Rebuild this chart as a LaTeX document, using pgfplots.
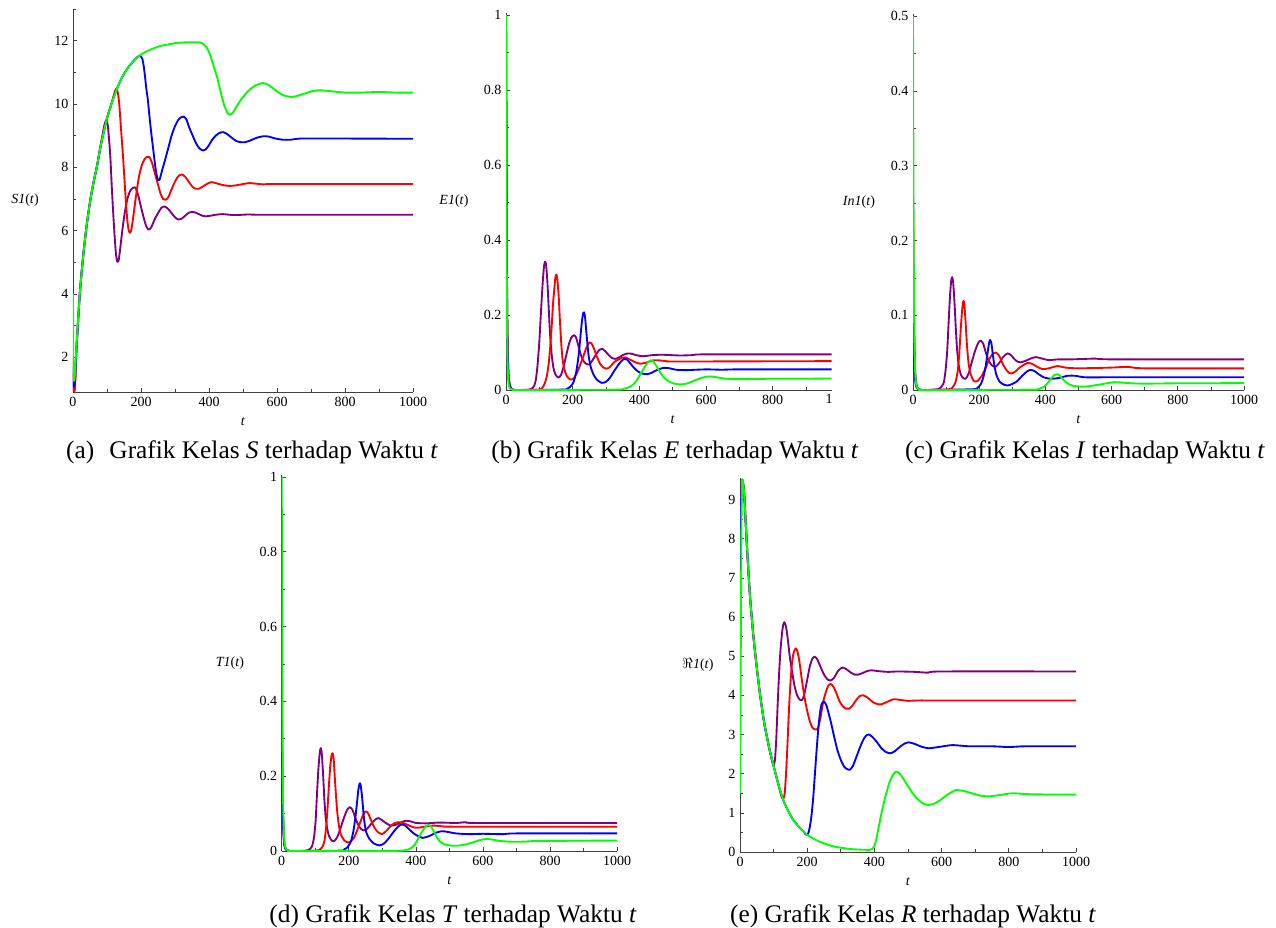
\documentclass[border=0pt]{standalone}
\usepackage{fontspec}
\setmainfont{Liberation Serif}
\usepackage{pgfplots}
\pgfplotsset{compat=1.18}
\definecolor{mPurple}{RGB}{128,0,128}
\definecolor{mRed}{RGB}{255,0,0}
\definecolor{mBlue}{RGB}{0,0,255}
\definecolor{mGreen}{RGB}{0,255,0}
\pgfplotsset{
  maple/.style={
    scale only axis,
    anchor=south west,
    axis lines=left,
    axis line style={-, black!75, line width=0.6pt},
    every tick/.style={black!75, line width=0.5pt},
    major tick length=3pt, minor tick length=2.5pt,
    tick align=inside,
    xmin=0, xmax=1000,
    xtick={0,200,400,600,800,1000},
    minor xtick={100,300,500,700,900},
    tick label style={font=\fontsize{10.5}{12}\selectfont},
    /pgf/number format/assume math mode=true,
    /pgf/number format/1000 sep={},
    xlabel={\textit{t}},
    every axis x label/.style={at={(axis description cs:0.5,0)}, anchor=center, yshift=-22pt, inner sep=0pt, font=\fontsize{10.5}{12}\selectfont},
    every axis y label/.style={at={(axis description cs:0,0.5)}, anchor=center, inner sep=0pt, font=\fontsize{10.5}{12}\selectfont},
    every axis plot/.append style={line width=1.4pt, smooth, tension=0.4, line join=round},
  }
}
\begin{document}
\begin{tikzpicture}
\path[use as bounding box] (0pt,0pt) rectangle (957pt,-695.25pt);

% ---------------- (a) S1 ----------------
\begin{axis}[maple, at={(54.75pt,-294pt)}, width=255pt, height=287.25pt,
  ymin=0.9, ymax=13, ytick={2,4,6,8,10,12}, minor ytick={1,3,5,7,9,11,13},
  ylabel={\textit{S1}(\textit{t})}, ylabel style={xshift=-36pt}]
\addplot[mPurple] coordinates {(0,1.5)(2,1.0)(4,0.95)(7,1.4)(10,2.3)(20,4.0)(30,5.2)(40,6.15)(50,6.9)(60,7.5)(70,8.0)(80,8.6)(88,9.1)(94,9.4)(98,9.48)(102,9.35)(106,8.9)(110,8.3)(114,7.4)(118,6.6)(122,5.9)(126,5.3)(130,5.02)(134,5.05)(138,5.35)(145,6.0)(152,6.55)(160,7.0)(168,7.25)(176,7.35)(184,7.35)(192,7.1)(200,6.75)(208,6.4)(215,6.15)(222,6.03)(230,6.1)(240,6.35)(250,6.55)(260,6.72)(270,6.76)(280,6.68)(290,6.55)(300,6.42)(310,6.35)(320,6.38)(330,6.47)(340,6.56)(350,6.59)(360,6.57)(370,6.52)(380,6.47)(390,6.45)(400,6.46)(420,6.5)(440,6.52)(460,6.5)(480,6.49)(520,6.51)(560,6.5)(1000,6.5)};
\addplot[mRed] coordinates {(0,2.0)(2,1.0)(4,0.92)(7,1.3)(10,2.2)(20,4.0)(30,5.2)(40,6.15)(50,6.9)(60,7.5)(70,8.0)(80,8.6)(90,9.1)(100,9.55)(110,9.9)(118,10.2)(124,10.42)(128,10.48)(132,10.35)(136,10.0)(140,9.4)(144,8.8)(148,8.2)(152,7.5)(156,6.85)(160,6.3)(164,6.0)(168,5.93)(172,6.05)(178,6.5)(186,7.15)(194,7.7)(202,8.05)(210,8.25)(218,8.33)(225,8.32)(232,8.15)(240,7.85)(250,7.45)(258,7.15)(265,7.0)(272,6.97)(280,7.05)(290,7.3)(300,7.55)(310,7.72)(320,7.77)(330,7.7)(340,7.55)(350,7.4)(360,7.32)(370,7.32)(380,7.38)(395,7.48)(407,7.53)(420,7.5)(440,7.44)(460,7.41)(480,7.43)(500,7.47)(520,7.5)(560,7.46)(600,7.47)(1000,7.47)};
\addplot[mBlue] coordinates {(0,1.7)(2,1.1)(5,1.15)(10,2.2)(20,4.0)(30,5.2)(40,6.15)(50,6.9)(60,7.5)(70,8.0)(80,8.6)(90,9.1)(100,9.55)(110,9.9)(120,10.22)(130,10.5)(140,10.75)(150,10.95)(160,11.12)(170,11.26)(180,11.38)(188,11.47)(195,11.52)(200,11.5)(204,11.42)(208,11.2)(212,10.85)(216,10.45)(220,10.15)(225,9.6)(230,9.1)(235,8.65)(240,8.2)(245,7.8)(250,7.6)(255,7.62)(262,7.9)(270,8.2)(280,8.6)(290,9.0)(300,9.3)(310,9.5)(318,9.58)(326,9.6)(334,9.5)(342,9.25)(350,9.05)(358,8.85)(366,8.68)(374,8.58)(382,8.53)(390,8.56)(400,8.7)(410,8.88)(420,9.0)(430,9.08)(441,9.11)(452,9.06)(465,8.95)(480,8.83)(495,8.79)(505,8.79)(520,8.84)(540,8.93)(560,8.98)(575,8.97)(595,8.91)(617,8.87)(640,8.87)(660,8.9)(700,8.91)(1000,8.9)};
\addplot[mGreen] coordinates {(0,4.0)(1,1.8)(3,1.25)(6,1.5)(10,2.3)(20,4.0)(30,5.2)(40,6.15)(50,6.9)(60,7.5)(70,8.0)(80,8.6)(90,9.1)(100,9.55)(110,9.9)(120,10.22)(130,10.5)(140,10.75)(150,10.95)(160,11.12)(170,11.26)(180,11.38)(190,11.47)(200,11.56)(220,11.68)(240,11.77)(260,11.84)(280,11.88)(300,11.92)(320,11.94)(340,11.95)(360,11.95)(375,11.94)(385,11.88)(395,11.75)(405,11.5)(415,11.15)(425,10.8)(435,10.35)(445,9.95)(455,9.7)(462,9.66)(470,9.72)(480,9.9)(495,10.15)(510,10.35)(525,10.5)(540,10.6)(559,10.66)(575,10.6)(590,10.48)(605,10.36)(620,10.27)(642,10.22)(665,10.27)(690,10.36)(710,10.42)(730,10.43)(760,10.4)(800,10.36)(850,10.36)(900,10.38)(950,10.36)(1000,10.36)};
\end{axis}

% ---------------- (b) E1 ----------------
\begin{axis}[maple, at={(379.5pt,-292.5pt)}, width=244.3pt, height=282.75pt,
  xmax=977, xtick={0,200,400,600,800}, extra x ticks={969}, extra x tick labels={1},
  extra x tick style={major tick length=0pt},
  ymin=0, ymax=1.005, ytick={0,0.2,0.4,0.6,0.8,1}, minor ytick={0.1,0.3,0.5,0.7,0.9},
  xlabel style={at={(axis description cs:0.5115,0)}},
  ylabel={\textit{E1}(\textit{t})}, ylabel style={xshift=-39pt}]
\addplot[mPurple] coordinates {(0,1.0)(1,0.75)(2,0.5)(3,0.3)(4,0.18)(6,0.08)(8,0.035)(12,0.01)(20,0.001)(40,0)(70,0.001)(78,0.004)(85,0.012)(90,0.03)(95,0.07)(100,0.13)(105,0.21)(110,0.285)(114,0.33)(117,0.342)(120,0.335)(124,0.29)(128,0.22)(132,0.15)(137,0.095)(142,0.06)(148,0.042)(157,0.033)(165,0.04)(172,0.06)(180,0.09)(188,0.12)(196,0.14)(204,0.146)(210,0.14)(217,0.118)(224,0.095)(232,0.078)(240,0.07)(250,0.068)(260,0.08)(270,0.095)(280,0.107)(288,0.11)(297,0.104)(307,0.094)(317,0.086)(327,0.083)(337,0.086)(350,0.093)(362,0.097)(375,0.097)(390,0.093)(410,0.09)(440,0.093)(470,0.094)(520,0.092)(560,0.093)(600,0.095)(1000,0.095)};
\addplot[mRed] coordinates {(0,1.0)(1,0.75)(2,0.5)(3,0.3)(4,0.18)(6,0.08)(8,0.035)(12,0.01)(20,0.001)(40,0)(100,0.001)(108,0.005)(115,0.015)(122,0.035)(128,0.07)(133,0.12)(137,0.17)(141,0.23)(145,0.27)(148,0.3)(151,0.308)(154,0.295)(158,0.25)(162,0.18)(166,0.12)(170,0.08)(175,0.055)(182,0.038)(192,0.028)(202,0.03)(212,0.044)(222,0.066)(232,0.09)(242,0.115)(250,0.127)(256,0.125)(264,0.11)(272,0.09)(282,0.07)(292,0.06)(300,0.057)(310,0.06)(320,0.07)(330,0.078)(345,0.085)(357,0.087)(370,0.082)(385,0.075)(402,0.07)(420,0.073)(442,0.079)(460,0.079)(480,0.077)(520,0.076)(1000,0.077)};
\addplot[mBlue] coordinates {(0,0.9)(1,0.7)(2,0.45)(3,0.27)(4,0.14)(6,0.06)(8,0.03)(12,0.01)(20,0.001)(40,0)(170,0.001)(182,0.003)(192,0.008)(202,0.02)(210,0.045)(216,0.08)(220,0.11)(224,0.15)(228,0.185)(231,0.203)(234,0.207)(237,0.195)(240,0.165)(244,0.125)(248,0.09)(254,0.062)(262,0.042)(272,0.028)(287,0.019)(300,0.022)(312,0.033)(324,0.05)(337,0.067)(347,0.078)(355,0.083)(363,0.081)(372,0.072)(382,0.061)(395,0.05)(408,0.044)(422,0.042)(437,0.046)(452,0.053)(472,0.059)(490,0.058)(510,0.054)(540,0.053)(600,0.055)(650,0.054)(700,0.055)(1000,0.055)};
\addplot[mGreen] coordinates {(0,1.0)(1,0.7)(2,0.4)(3,0.2)(4,0.1)(6,0.04)(8,0.015)(12,0.004)(20,0.001)(40,0)(330,0.001)(350,0.003)(362,0.005)(375,0.01)(385,0.018)(395,0.03)(405,0.045)(415,0.06)(425,0.073)(433,0.079)(440,0.078)(447,0.07)(455,0.058)(463,0.046)(472,0.035)(482,0.027)(495,0.02)(510,0.016)(527,0.015)(545,0.018)(565,0.025)(585,0.032)(605,0.036)(625,0.035)(650,0.031)(680,0.029)(720,0.029)(800,0.03)(900,0.03)(1000,0.031)};
\end{axis}

% ---------------- (c) In1 ----------------
\begin{axis}[maple, at={(684.75pt,-292.5pt)}, width=248.25pt, height=282pt,
  ymin=0, ymax=0.503, ytick={0,0.1,0.2,0.3,0.4,0.5}, minor ytick={0.05,0.15,0.25,0.35,0.45},
  ylabel={\textit{In1}(\textit{t})}, ylabel style={xshift=-40.5pt}]
\addplot[mPurple] coordinates {(0,0.27)(2,0.15)(4,0.07)(6,0.03)(8,0.015)(12,0.004)(20,0.0005)(40,0)(75,0.001)(85,0.004)(93,0.01)(98,0.025)(103,0.05)(107,0.085)(111,0.12)(115,0.145)(118,0.151)(121,0.145)(125,0.12)(129,0.085)(133,0.055)(138,0.033)(145,0.02)(152,0.016)(159,0.015)(168,0.022)(178,0.038)(188,0.053)(197,0.063)(204,0.066)(212,0.062)(220,0.05)(228,0.04)(238,0.033)(249,0.031)(260,0.036)(272,0.044)(285,0.049)(295,0.047)(305,0.042)(315,0.038)(325,0.037)(340,0.039)(355,0.042)(371,0.044)(390,0.042)(410,0.04)(440,0.041)(480,0.041)(550,0.042)(600,0.041)(1000,0.041)};
\addplot[mRed] coordinates {(0,0.2)(2,0.1)(4,0.05)(6,0.025)(8,0.012)(12,0.004)(20,0.0005)(40,0)(110,0.001)(120,0.004)(128,0.01)(135,0.025)(140,0.05)(144,0.08)(148,0.105)(152,0.119)(155,0.115)(159,0.09)(163,0.06)(168,0.035)(175,0.02)(184,0.012)(195,0.012)(209,0.02)(220,0.03)(230,0.041)(240,0.048)(250,0.05)(260,0.046)(270,0.036)(280,0.028)(290,0.023)(297,0.022)(310,0.025)(325,0.031)(345,0.036)(360,0.035)(375,0.031)(391,0.028)(410,0.029)(436,0.032)(460,0.03)(500,0.029)(600,0.03)(650,0.031)(700,0.029)(1000,0.029)};
\addplot[mBlue] coordinates {(0,0.12)(2,0.06)(4,0.03)(6,0.015)(10,0.004)(20,0.0005)(40,0)(180,0.001)(195,0.003)(205,0.008)(213,0.018)(220,0.033)(226,0.052)(230,0.063)(233,0.067)(237,0.062)(241,0.048)(246,0.032)(252,0.02)(262,0.011)(275,0.007)(285,0.006)(300,0.008)(315,0.012)(330,0.019)(345,0.025)(356,0.027)(368,0.025)(380,0.021)(395,0.017)(416,0.015)(440,0.016)(467,0.019)(490,0.019)(520,0.017)(600,0.017)(1000,0.017)};
\addplot[mGreen] coordinates {(0,0.5)(1,0.33)(2,0.2)(3,0.12)(4,0.07)(6,0.03)(8,0.012)(12,0.003)(20,0.0005)(40,0)(360,0.0005)(376,0.001)(390,0.003)(400,0.006)(410,0.011)(420,0.017)(428,0.02)(435,0.021)(442,0.02)(450,0.016)(460,0.011)(470,0.008)(480,0.006)(495,0.005)(510,0.0045)(530,0.005)(560,0.007)(585,0.009)(608,0.0105)(630,0.01)(660,0.009)(700,0.0085)(800,0.009)(900,0.009)(1000,0.0095)};
\end{axis}

% ---------------- (d) T1 ----------------
\begin{axis}[maple, at={(211.3pt,-638.25pt)}, width=251.5pt, height=282pt,
  ymin=0, ymax=1.005, ytick={0,0.2,0.4,0.6,0.8,1}, minor ytick={0.1,0.3,0.5,0.7,0.9},
  ylabel={\textit{T1}(\textit{t})}, ylabel style={xshift=-38.8pt}]
\addplot[mPurple] coordinates {(0,0.35)(2,0.2)(4,0.09)(6,0.04)(8,0.018)(12,0.005)(20,0.0005)(40,0)(72,0.001)(82,0.004)(90,0.012)(96,0.035)(101,0.08)(105,0.15)(109,0.215)(113,0.26)(116,0.275)(119,0.265)(123,0.21)(127,0.14)(131,0.09)(136,0.058)(141,0.04)(148,0.029)(156,0.026)(166,0.038)(176,0.063)(186,0.09)(195,0.11)(203,0.117)(211,0.11)(221,0.085)(231,0.065)(243,0.055)(255,0.06)(268,0.074)(280,0.085)(288,0.088)(298,0.083)(310,0.075)(325,0.068)(340,0.07)(355,0.076)(370,0.081)(385,0.079)(400,0.075)(430,0.074)(470,0.076)(520,0.075)(550,0.077)(580,0.075)(1000,0.075)};
\addplot[mRed] coordinates {(0,0.35)(2,0.2)(4,0.09)(6,0.04)(8,0.018)(12,0.005)(20,0.0005)(40,0)(105,0.001)(115,0.005)(122,0.012)(128,0.03)(133,0.07)(137,0.12)(141,0.18)(145,0.23)(149,0.258)(152,0.261)(155,0.245)(158,0.2)(162,0.145)(166,0.1)(171,0.065)(176,0.045)(185,0.03)(196,0.023)(206,0.026)(216,0.036)(226,0.058)(236,0.081)(244,0.1)(251,0.106)(258,0.1)(266,0.083)(275,0.065)(285,0.052)(299,0.045)(312,0.054)(325,0.067)(338,0.075)(350,0.077)(365,0.074)(380,0.068)(400,0.062)(420,0.064)(450,0.068)(480,0.066)(520,0.065)(1000,0.065)};
\addplot[mBlue] coordinates {(0,0.35)(2,0.18)(4,0.08)(6,0.035)(8,0.015)(12,0.004)(20,0.0005)(40,0)(175,0.001)(186,0.004)(196,0.01)(206,0.025)(213,0.05)(219,0.085)(224,0.125)(228,0.16)(232,0.18)(235,0.178)(239,0.15)(243,0.11)(247,0.075)(252,0.05)(261,0.033)(275,0.02)(291,0.015)(305,0.02)(320,0.035)(335,0.053)(348,0.066)(358,0.071)(368,0.068)(380,0.058)(395,0.046)(410,0.038)(420,0.035)(440,0.04)(460,0.049)(478,0.053)(495,0.051)(520,0.047)(560,0.045)(600,0.046)(660,0.045)(700,0.047)(1000,0.047)};
\addplot[mGreen] coordinates {(0,1.0)(1,0.65)(2,0.4)(3,0.24)(4,0.14)(6,0.06)(8,0.025)(12,0.006)(20,0.0005)(40,0)(340,0.0005)(360,0.001)(380,0.005)(395,0.015)(408,0.035)(420,0.054)(430,0.066)(437,0.07)(444,0.067)(452,0.055)(462,0.038)(472,0.025)(485,0.018)(500,0.015)(520,0.014)(545,0.017)(570,0.023)(590,0.029)(608,0.032)(625,0.031)(650,0.027)(680,0.025)(720,0.025)(760,0.027)(800,0.027)(1000,0.028)};
\end{axis}

% ---------------- (e) R1 ----------------
\begin{axis}[maple, at={(555pt,-639pt)}, width=252pt, height=280.5pt,
  ymin=0, ymax=9.55, ytick={0,1,2,3,4,5,6,7,8,9}, minor ytick={0.5,1.5,2.5,3.5,4.5,5.5,6.5,7.5,8.5,9.5},
  ylabel={$\Re$\textit{1}(\textit{t})}, ylabel style={xshift=-31.5pt}]
\addplot[mPurple] coordinates {(0,6.7)(2,8.3)(4,9.2)(7,9.5)(12,9.2)(17,8.4)(22,7.6)(30,6.5)(40,5.5)(50,4.7)(60,4.0)(72,3.3)(87,2.65)(96,2.3)(100,2.22)(104,2.35)(108,2.9)(112,3.75)(116,4.5)(120,5.1)(124,5.5)(128,5.78)(132,5.87)(137,5.75)(142,5.45)(148,5.0)(155,4.6)(162,4.25)(170,4.0)(178,3.89)(185,3.88)(192,4.05)(200,4.4)(208,4.75)(215,4.93)(222,4.99)(230,4.92)(240,4.72)(250,4.53)(260,4.41)(270,4.38)(280,4.45)(290,4.6)(300,4.69)(307,4.71)(318,4.66)(330,4.58)(342,4.53)(352,4.53)(365,4.57)(378,4.62)(392,4.64)(410,4.62)(440,4.6)(470,4.61)(520,4.6)(560,4.58)(600,4.61)(1000,4.61)};
\addplot[mRed] coordinates {(0,6.7)(2,8.3)(4,9.2)(7,9.5)(12,9.2)(17,8.4)(22,7.6)(30,6.5)(40,5.5)(50,4.7)(60,4.0)(72,3.3)(87,2.65)(100,2.2)(115,1.7)(122,1.45)(126,1.37)(129,1.36)(133,1.5)(137,2.0)(141,2.7)(145,3.5)(150,4.3)(155,4.85)(160,5.1)(166,5.2)(171,5.12)(177,4.85)(184,4.4)(192,3.95)(200,3.6)(208,3.33)(216,3.17)(224,3.13)(232,3.16)(240,3.45)(248,3.85)(256,4.1)(263,4.25)(270,4.29)(278,4.22)(287,4.05)(296,3.85)(306,3.72)(316,3.66)(325,3.66)(335,3.74)(345,3.87)(356,3.98)(367,4.0)(380,3.94)(395,3.83)(408,3.78)(420,3.77)(437,3.83)(457,3.9)(480,3.88)(500,3.86)(530,3.87)(600,3.87)(1000,3.87)};
\addplot[mBlue] coordinates {(0,6.7)(2,8.3)(4,9.2)(7,9.5)(12,9.2)(17,8.4)(22,7.6)(30,6.5)(40,5.5)(50,4.7)(60,4.0)(72,3.3)(87,2.65)(100,2.2)(115,1.7)(130,1.3)(145,1.02)(160,0.8)(180,0.6)(190,0.52)(195,0.45)(200,0.44)(204,0.5)(208,0.65)(213,0.95)(218,1.4)(223,2.0)(228,2.6)(233,3.15)(238,3.55)(243,3.78)(250,3.84)(257,3.75)(265,3.5)(272,3.26)(280,2.95)(290,2.6)(300,2.35)(310,2.18)(318,2.12)(327,2.1)(336,2.2)(346,2.42)(356,2.65)(366,2.85)(375,2.97)(384,3.0)(395,2.93)(408,2.8)(420,2.66)(433,2.56)(447,2.52)(460,2.57)(475,2.68)(490,2.77)(502,2.8)(520,2.76)(540,2.69)(562,2.65)(590,2.68)(632,2.73)(680,2.7)(750,2.7)(800,2.68)(850,2.7)(1000,2.7)};
\addplot[mGreen] coordinates {(0,1.5)(2,4.5)(4,8.0)(6,9.4)(8,9.5)(12,9.2)(17,8.4)(22,7.6)(30,6.5)(40,5.5)(50,4.7)(60,4.0)(72,3.3)(87,2.65)(100,2.2)(115,1.7)(130,1.3)(145,1.02)(160,0.8)(180,0.6)(200,0.44)(225,0.31)(250,0.22)(275,0.15)(300,0.11)(330,0.075)(360,0.06)(385,0.055)(392,0.07)(398,0.12)(405,0.3)(412,0.6)(420,0.95)(428,1.25)(436,1.52)(445,1.78)(455,1.97)(466,2.06)(480,1.95)(495,1.75)(510,1.55)(525,1.38)(545,1.24)(562,1.2)(580,1.24)(600,1.35)(620,1.48)(642,1.58)(665,1.56)(690,1.5)(715,1.44)(740,1.42)(770,1.45)(810,1.5)(850,1.48)(900,1.47)(1000,1.47)};
\end{axis}

% ---------------- captions ----------------
\begin{scope}[every node/.style={anchor=base, inner sep=0pt, font=\fontsize{19}{22}\selectfont}]
\node at (189pt,-344pt) {(a)\hspace{0.35em} Grafik Kelas \textit{S} terhadap Waktu \textit{t}};
\node at (506.25pt,-344pt) {(b) Grafik Kelas \textit{E} terhadap Waktu \textit{t}};
\node at (813.75pt,-344pt) {(c) Grafik Kelas \textit{I} terhadap Waktu \textit{t}};
\node at (339.75pt,-691.5pt) {(d) Grafik Kelas \textit{T} terhadap Waktu \textit{t}};
\node at (684.75pt,-691.5pt) {(e) Grafik Kelas \textit{R} terhadap Waktu \textit{t}};
\end{scope}
\end{tikzpicture}
\end{document}
